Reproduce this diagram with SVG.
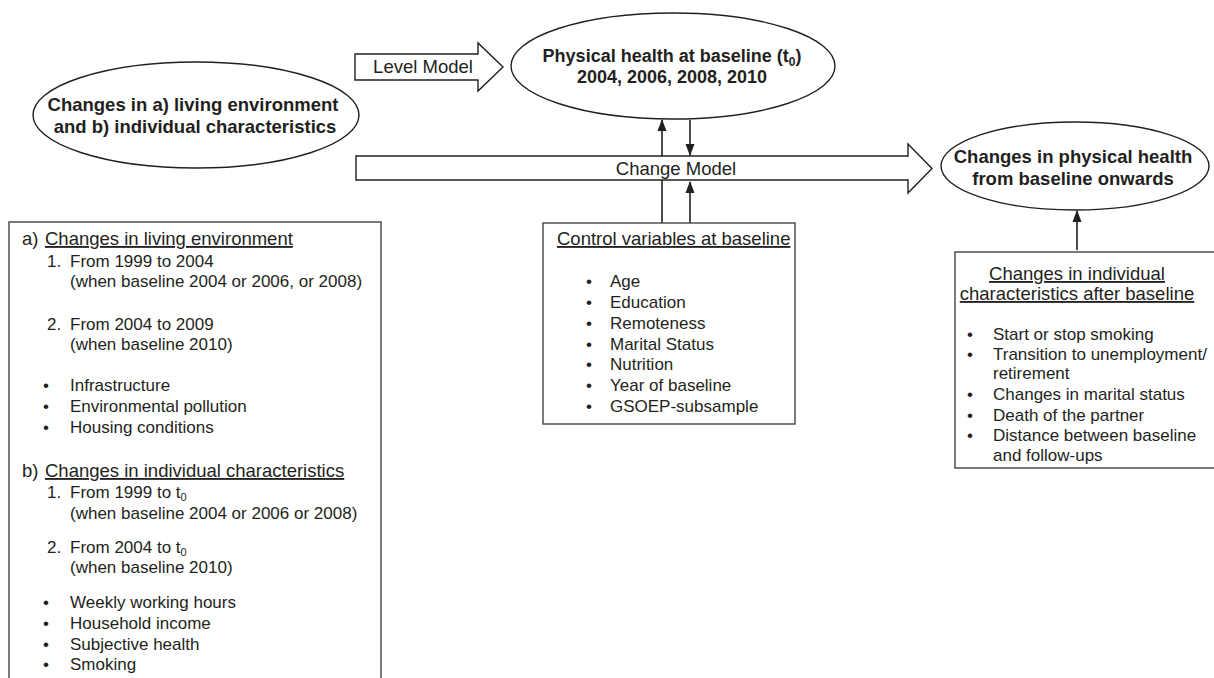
<svg xmlns="http://www.w3.org/2000/svg" width="1214" height="678" viewBox="0 0 1214 678">
<defs>
<style>
text{font-family:"Liberation Sans",Arial,sans-serif;fill:#231f20;font-size:17px}
.b{font-weight:bold;font-size:18.5px}
.lg{font-size:18.5px}
.m{text-anchor:middle}
.u{text-decoration:underline;font-size:18.5px}
.shape{fill:#fff;stroke:#231f20;stroke-width:1.4}
.box{fill:#fff;stroke:#444;stroke-width:1.4}
.ln{stroke:#231f20;stroke-width:1.6;fill:none}
</style>
<marker id="ah" markerUnits="userSpaceOnUse" markerWidth="12" markerHeight="12" viewBox="0 0 12 12" refX="11" refY="6" orient="auto">
<path d="M0,1.5 L12,6 L0,10.5 Z" fill="#231f20"/>
</marker>
</defs>
<rect width="1214" height="678" fill="#fff"/>

<g id="connectors">
<line class="ln" x1="662" y1="223" x2="662" y2="180"/>
<line class="ln" x1="662" y1="156" x2="662" y2="120" marker-end="url(#ah)"/>
<line class="ln" x1="690" y1="120" x2="690" y2="155" marker-end="url(#ah)"/>
<line class="ln" x1="690" y1="223" x2="690" y2="182" marker-end="url(#ah)"/>
<line class="ln" x1="1077" y1="250" x2="1077" y2="211" marker-end="url(#ah)"/>
</g>

<g id="level-model">
<polygon class="shape" points="355,54 478,54 478,43 503,67 478,91 478,80 355,80"/>
<text class="m lg" x="423" y="73">Level Model</text>
</g>

<g id="change-model">
<polygon class="shape" points="356,156 908,156 908,144 932,168.5 908,193 908,180 356,180"/>
<text class="m lg" x="676" y="175">Change Model</text>
</g>

<g id="changes-env">
<ellipse class="shape" cx="196" cy="115" rx="163" ry="53"/>
<text class="b m" x="193" y="111">Changes in a) living environment</text>
<text class="b m" x="195" y="133">and b) individual characteristics</text>
</g>

<g id="physical-baseline">
<ellipse class="shape" cx="673" cy="66" rx="162" ry="53"/>
<text class="b m" x="672" y="62" style="font-size:18px">Physical health at baseline (t<tspan font-size="12" dy="4">0</tspan><tspan dy="-4">)</tspan></text>
<text class="b m" x="672" y="83" style="font-size:18px">2004, 2006, 2008, 2010</text>
</g>

<g id="physical-changes">
<ellipse class="shape" cx="1075" cy="166" rx="134" ry="44"/>
<text class="b m" x="1073" y="163">Changes in physical health</text>
<text class="b m" x="1073" y="185">from baseline onwards</text>
</g>

<g id="left-box">
<rect class="box" x="9" y="222" width="372" height="480"/>
<text x="22" y="245" class="lg">a)</text>
<text class="u" x="45" y="245">Changes in living environment</text>
<text x="47" y="267">1.</text>
<text x="70" y="267">From 1999 to 2004</text>
<text x="70" y="287">(when baseline 2004 or 2006, or 2008)</text>
<text x="47" y="330">2.</text>
<text x="70" y="330">From 2004 to 2009</text>
<text x="70" y="350">(when baseline 2010)</text>
<text x="43" y="391">•</text><text x="70" y="391">Infrastructure</text>
<text x="43" y="412">•</text><text x="70" y="412">Environmental pollution</text>
<text x="43" y="433">•</text><text x="70" y="433">Housing conditions</text>
<text x="22" y="477" class="lg">b)</text>
<text class="u" x="45" y="477">Changes in individual characteristics</text>
<text x="47" y="498">1.</text>
<text x="70" y="498">From 1999 to t<tspan font-size="11" dy="3">0</tspan></text>
<text x="70" y="519">(when baseline 2004 or 2006 or 2008)</text>
<text x="47" y="553">2.</text>
<text x="70" y="553">From 2004 to t<tspan font-size="11" dy="3">0</tspan></text>
<text x="70" y="573">(when baseline 2010)</text>
<text x="43" y="608">•</text><text x="70" y="608">Weekly working hours</text>
<text x="43" y="629">•</text><text x="70" y="629">Household income</text>
<text x="43" y="650">•</text><text x="70" y="650">Subjective health</text>
<text x="43" y="670">•</text><text x="70" y="670">Smoking</text>
</g>

<g id="control-box">
<rect class="box" x="543" y="223" width="252" height="201"/>
<text class="u" x="557" y="245">Control variables at baseline</text>
<text x="586" y="287">•</text><text x="610" y="287">Age</text>
<text x="586" y="308">•</text><text x="610" y="308">Education</text>
<text x="586" y="329">•</text><text x="610" y="329">Remoteness</text>
<text x="586" y="350">•</text><text x="610" y="350">Marital Status</text>
<text x="586" y="370">•</text><text x="610" y="370">Nutrition</text>
<text x="586" y="391">•</text><text x="610" y="391">Year of baseline</text>
<text x="586" y="412">•</text><text x="610" y="412">GSOEP-subsample</text>
</g>

<g id="after-box">
<rect class="box" x="955" y="252" width="270" height="216"/>
<text class="u m" x="1077" y="280">Changes in individual</text>
<text class="u m" x="1077" y="300">characteristics after baseline</text>
<text x="967" y="340">•</text><text x="993" y="340">Start or stop smoking</text>
<text x="967" y="360">•</text><text x="993" y="360">Transition to unemployment/</text>
<text x="993" y="379">retirement</text>
<text x="967" y="400">•</text><text x="993" y="400">Changes in marital status</text>
<text x="967" y="421">•</text><text x="993" y="421">Death of the partner</text>
<text x="967" y="441">•</text><text x="993" y="441">Distance between baseline</text>
<text x="993" y="461">and follow-ups</text>
</g>
</svg>
